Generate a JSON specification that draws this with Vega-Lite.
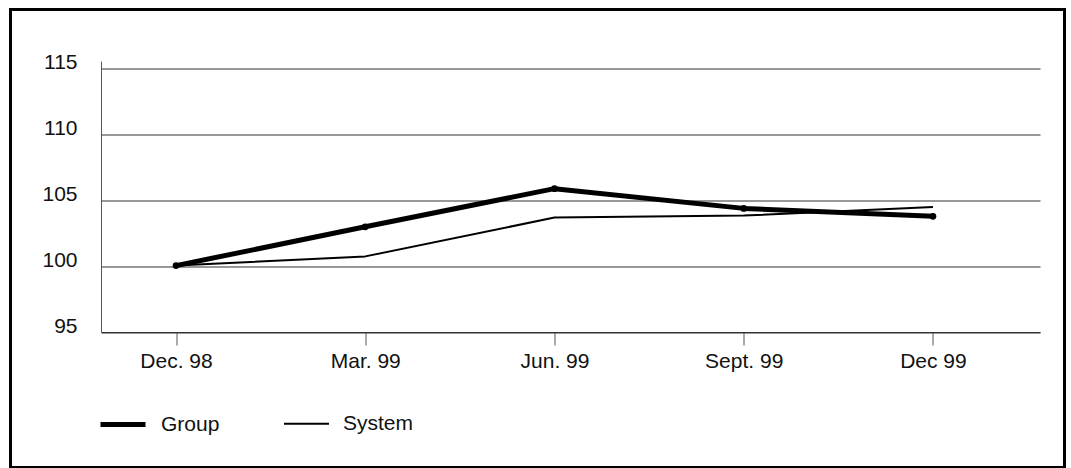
{
  "$schema": "https://vega.github.io/schema/vega-lite/v6.json",
  "autosize": "none",
  "width": 1054,
  "height": 458,
  "padding": {"left": 10.5, "top": 9.5, "right": 6.5, "bottom": 0.5},
  "background": "white",
  "config": {
    "view": {"stroke": "black", "strokeWidth": 3},
    "font": "Liberation Sans"
  },
  "data": {
    "values": [
      {"period": "Dec. 98", "series": "Group", "value": 100.05},
      {"period": "Mar. 99", "series": "Group", "value": 103.0},
      {"period": "Jun. 99", "series": "Group", "value": 105.9},
      {"period": "Sept. 99", "series": "Group", "value": 104.4},
      {"period": "Dec 99", "series": "Group", "value": 103.8},
      {"period": "Dec. 98", "series": "System", "value": 100.05},
      {"period": "Mar. 99", "series": "System", "value": 100.75},
      {"period": "Jun. 99", "series": "System", "value": 103.7},
      {"period": "Sept. 99", "series": "System", "value": 103.85},
      {"period": "Dec 99", "series": "System", "value": 104.5}
    ]
  },
  "encoding": {
    "x": {
      "field": "period",
      "type": "ordinal",
      "sort": null,
      "scale": {"type": "point", "range": [90.5, 1029.5], "padding": 0.481, "align": 0.412},
      "axis": {
        "title": null,
        "orient": "bottom",
        "offset": -135.5,
        "labelAngle": 0,
        "labelFontSize": 21,
        "labelColor": "#111",
        "labelPadding": 5,
        "tickSize": 13,
        "tickColor": "#555",
        "tickWidth": 1,
        "domainColor": "#333",
        "domainWidth": 1.2,
        "grid": false
      }
    },
    "y": {
      "field": "value",
      "type": "quantitative",
      "scale": {"domain": [95, 115.6], "range": [322.5, 51.6], "nice": false, "zero": false},
      "axis": {
        "title": null,
        "orient": "left",
        "offset": -90.5,
        "values": [95, 100, 105, 110, 115],
        "labelFontSize": 21,
        "labelColor": "#111",
        "labelPadding": 24,
        "labelOffset": -6,
        "ticks": false,
        "tickSize": 0,
        "domainColor": "#555",
        "domainWidth": 1,
        "grid": true,
        "gridColor": "#333",
        "gridWidth": 1.2
      }
    }
  },
  "layer": [
    {
      "mark": {"type": "line", "color": "black", "strokeJoin": "round", "strokeCap": "butt"},
      "encoding": {
        "strokeWidth": {
          "field": "series",
          "type": "ordinal",
          "scale": {"domain": ["Group", "System"], "range": [5, 2]},
          "legend": {
            "title": null,
            "orient": "none",
            "direction": "horizontal",
            "legendX": 87.5,
            "legendY": 390,
            "symbolType": "stroke",
            "symbolSize": 2025,
            "symbolStrokeColor": "black",
            "labelFontSize": 21,
            "labelColor": "#111",
            "labelOffset": 13,
            "columnPadding": 60
          }
        }
      }
    },
    {
      "transform": [{"filter": "datum.series === 'Group'"}],
      "mark": {"type": "point", "filled": true, "color": "black", "size": 45, "opacity": 1},
      "encoding": {}
    }
  ]
}
